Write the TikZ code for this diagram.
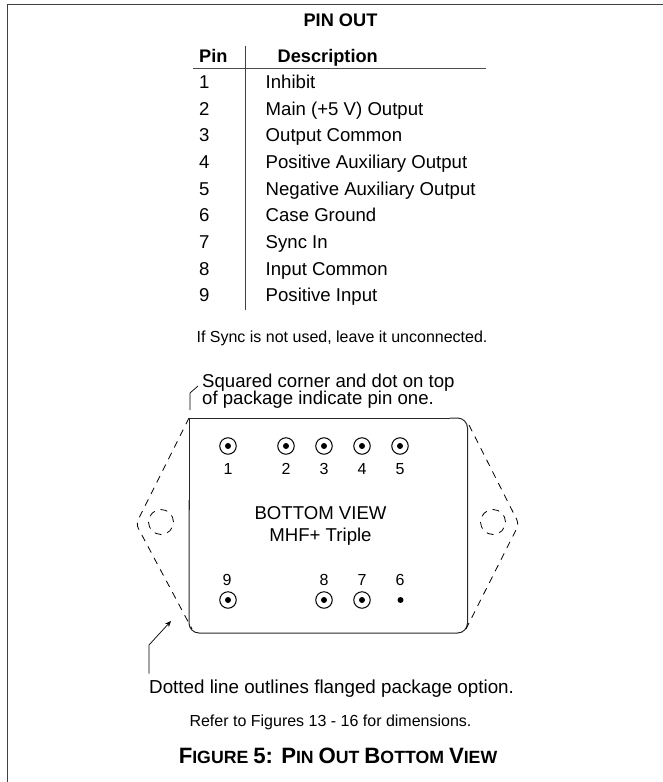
\documentclass[tikz,border=0pt]{standalone}
\usepackage{fontspec}
\setmainfont{Liberation Sans}
\usetikzlibrary{arrows.meta}
\newcommand{\capbig}{\fontsize{22.2}{24}\selectfont}
\newcommand{\capsm}{\fontsize{17.7}{24}\selectfont}
\tikzset{x=1pt,y=-1pt,
 bigt/.style={inner sep=0pt,anchor=base west,font=\fontsize{18.6}{20}\selectfont},
 bigc/.style={inner sep=0pt,anchor=base,font=\fontsize{18.6}{20}\selectfont},
 boldt/.style={inner sep=0pt,font=\fontsize{18.2}{20}\selectfont\bfseries},
 pnum/.style={inner sep=0pt,anchor=base,font=\fontsize{16}{18}\selectfont},
 small/.style={inner sep=0pt,anchor=base,font=\fontsize{16}{18}\selectfont},
 flange/.style={line width=0.8pt,dash pattern=on 7pt off 6pt},
 pinring/.style={circle,draw,line width=1pt,minimum size=16.5pt,inner sep=0pt},
 pindot/.style={circle,fill,minimum size=6pt,inner sep=0pt},
}
\newcommand{\pinat}[3]{\node[pinring] (r#1) at (#2,#3) {}; \node[pindot] (d#1) at (#2,#3) {};}
\begin{document}
\begin{tikzpicture}
\useasboundingbox (0,0) rectangle (663,782);
\draw[line width=1pt,color=black!75] (7,782) -- (7,4) -- (663,4);
\node[boldt,anchor=base] (title) at (340.5,26) {PIN OUT};
\node[boldt,anchor=base west] (hp) at (199,62) {Pin};
\node[boldt,anchor=base west] (hd) at (277.5,62) {Description};
\draw[line width=1pt,color=black!70] (193,68) -- (486,68);
\draw[line width=0.8pt,color=black!75] (245,46) -- (245,310);
\foreach \n/\t [count=\i from 0] in {1/Inhibit,2/Main (+5 V) Output,3/Output Common,4/Positive Auxiliary Output,5/Negative Auxiliary Output,6/Case Ground,7/Sync In,8/Input Common,9/Positive Input}{
 \pgfmathsetmacro\yy{88.3+\i*26.7}
 \node[bigt] (pn\n) at (199,\yy) {\n};
 \node[bigt] (pt\n) at (265.5,\yy) {\t};
}
\node[small] (note) at (342,342) {If Sync is not used, leave it unconnected.};
\node[bigt] (sq1) at (202,387) {Squared corner and dot on top};
\node[bigt] (sq2) at (202,404) {of package indicate pin one.};
\coordinate (l1) at (190,410);
\coordinate (l2) at (190,393);
\coordinate (l3) at (198,386);
\draw[line width=0.7pt] (l1) -- (l2) -- (l3);
\draw[line width=1pt,color=black!85,rounded corners=10pt] (450,418) -- (467.5,418) -- (467.5,633) -- (189,633) -- (189,500);
\draw[line width=1pt,color=black!85] (450,418) -- (189,418) -- (189,510);
% flange outlines
\draw[flange,rounded corners=5pt] (189,418) -- (136,524) -- (192,629);
\draw[flange,rounded corners=5pt] (469,425) -- (519,524) -- (466,629);
\node[circle,draw,flange,minimum size=25pt,inner sep=0pt] (hl) at (161,522) {};
\node[circle,draw,flange,minimum size=25pt,inner sep=0pt] (hr) at (493,522) {};
\pinat{1}{228}{446}\pinat{2}{286}{446}\pinat{3}{324}{446}\pinat{4}{362}{446}\pinat{5}{400}{446}
\pinat{9}{228}{600}\pinat{8}{324}{600}\pinat{7}{362}{600}
\node[pindot] (d6) at (400.5,600) {};
\foreach \n/\x in {1/228,2/286,3/324,4/362,5/400}{\node[pnum] (n\n) at (\x,474) {\n};}
\foreach \n/\x in {9/227,8/324,7/362,6/400}{\node[pnum] (n\n) at (\x,585) {\n};}
\node[bigc] (bv) at (320.5,519) {BOTTOM VIEW};
\node[bigc] (mh) at (320.5,541) {MHF+ Triple};
\coordinate (a1) at (149,673.5);
\coordinate (a2) at (149,645);
\coordinate (a3) at (171,621);
\draw[line width=0.7pt,-{Stealth[length=6pt,width=5pt]}] (a1) -- (a2) -- (a3);
\node[bigt,font=\fontsize{18.8}{20}\selectfont] (dl) at (149,693) {Dotted line outlines flanged package option.};
\node[small] (rf) at (330.5,726) {Refer to Figures 13 - 16 for dimensions.};
\node[inner sep=0pt,anchor=base,font=\bfseries] (cap) at (338,763) {\capbig F\capsm IGURE \capbig 5: P\capsm IN \capbig O\capsm UT \capbig B\capsm OTTOM \capbig V\capsm IEW};
\end{tikzpicture}
\end{document}
